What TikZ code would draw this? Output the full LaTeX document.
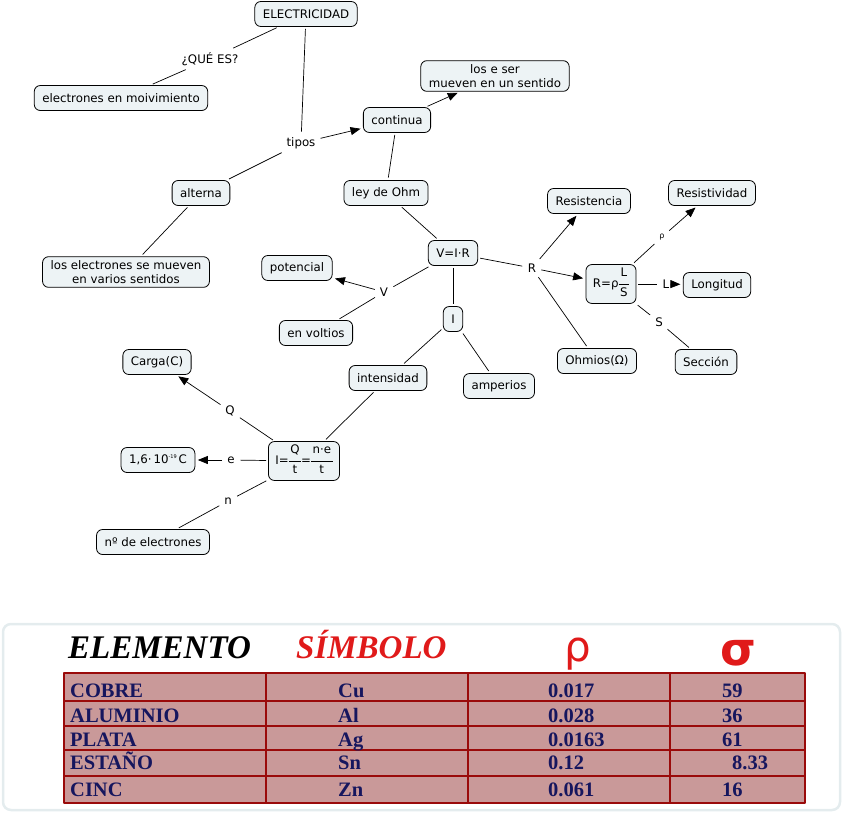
\documentclass[tikz,border=0pt]{standalone}
\usepackage{fontspec}
\setsansfont{DejaVu Sans}
\newfontfamily\tablefont{Liberation Serif}
\newfontfamily\greekfont{DejaVu Sans}
\usepackage{tikz}
\usetikzlibrary{arrows.meta}
\usepackage{xcolor}
\definecolor{conceptfill}{HTML}{EDF3F5}
\definecolor{framegray}{HTML}{E4ECEE}
\definecolor{cellfill}{HTML}{C99999}
\definecolor{cellline}{HTML}{9A0A0A}
\definecolor{cellink}{HTML}{16165E}
\definecolor{headred}{HTML}{E01A1A}
\newcommand{\mapfrac}[2]{\begin{tabular}{@{\hspace{1.5pt}}c@{\hspace{1.5pt}}}#1\\[2.5pt]\hline\rule{0pt}{12.5pt}#2\end{tabular}}

\begin{document}
\begin{tikzpicture}[x=1pt, y=-1pt, line join=round,
    font=\sffamily\fontsize{11.8}{13.5}\selectfont,
    concept/.style={draw, fill=conceptfill, rounded corners=6pt, line width=0.8pt,
      inner xsep=8pt, inner ysep=4pt, minimum height=25pt, align=center},
    linkword/.style={inner sep=3pt},
    link/.style={line width=0.7pt, shorten <=2pt, shorten >=2.5pt},
    linkarrow/.style={line width=0.7pt, shorten <=2pt, shorten >=2.5pt,
      -{Triangle[length=10pt, width=8pt]}},
    header/.style={anchor=base west, inner sep=0pt,
      font=\tablefont\bfseries\itshape\fontsize{33}{35}\selectfont},
    cell/.style={anchor=base west, inner sep=0pt, text=cellink,
      font=\tablefont\bfseries\fontsize{20.5}{22}\selectfont}]

    \useasboundingbox (0,0) rectangle (843,815);

    % ELECTRICIDAD and its two kinds
    \node[concept]  (elec)    at (306,14)  {ELECTRICIDAD};
    \node[linkword] (quees)   at (210,59)  {¿QUÉ ES?};
    \node[concept]  (movim)   at (121,98)  {electrones en moivimiento};
    \node[linkword] (tipos)   at (301,143) {tipos};
    \node[concept]  (cont)    at (397,120) {continua};
    \node[concept]  (sentido) at (495,76)  {los e ser\\ mueven en un sentido};
    \node[concept]  (alt)     at (201,193) {alterna};
    \node[concept]  (varios)  at (126,272) {los electrones se mueven\\en varios sentidos};

    % Ohm's law
    \node[concept]  (ohm)     at (386,193) {ley de Ohm};
    \node[concept]  (vir)     at (453,253) {V=I·R};
    \node[linkword] (vlbl)    at (384,292) {V};
    \node[concept]  (pot)     at (297,268) {potencial};
    \node[concept]  (volt)    at (316,333) {en voltios};
    \node[linkword] (rlbl)    at (532,268) {R};
    \node[concept]  (resis)   at (589,201) {Resistencia};
    \node[concept]  (ohmios)  at (597,361) {Ohmios(Ω)};
    \node[concept, inner xsep=7pt, inner ysep=3pt] (formr) at (611,284) {R=ρ\mapfrac{L}{S}};
    \node[linkword] (rholbl)  at (662,237) {\footnotesize ρ};
    \node[concept]  (resvd)   at (712,193) {Resistividad};
    \node[linkword] (llbl)    at (666,284) {L};
    \node[concept]  (longi)   at (717,285) {Longitud};
    \node[linkword] (slbl)    at (659,322) {S};
    \node[concept]  (secc)    at (706,362) {Sección};

    % Intensity and charge
    \node[concept]  (inode)   at (453,319) {I};
    \node[concept]  (intens)  at (388,378) {intensidad};
    \node[concept]  (amp)     at (499,386) {amperios};
    \node[concept, inner xsep=7pt, inner ysep=3pt] (formi) at (304,461)
      {I=\mapfrac{Q}{t}=\mapfrac{n·e}{t}};
    \node[linkword] (qlbl)    at (230,411) {Q};
    \node[concept]  (carga)   at (157,362) {Carga(C)};
    \node[linkword] (elbl)    at (231,460) {e};
    \node[concept]  (carge)   at (158,460) {1,6·\,10\raisebox{0.8ex}{\tiny -19}\,C};
    \node[linkword] (nlbl)    at (228,501) {n};
    \node[concept]  (nelec)   at (153,542) {nº de electrones};

    % Connectors
    \draw[link] (elec) -- (quees);
    \draw[link] (quees) -- (movim);
    \draw[link] (elec) -- (tipos);
    \draw[linkarrow] (tipos) -- (cont);
    \draw[link] (tipos) -- (alt);
    \draw[linkarrow] (cont) -- (sentido);
    \draw[link] (alt) -- (varios);
    \draw[link] (cont) -- (ohm);
    \draw[link] (ohm) -- (vir);
    \draw[link] (vir) -- (vlbl);
    \draw[linkarrow] (vlbl) -- (pot);
    \draw[link] (vlbl) -- (volt);
    \draw[link] (vir) -- (rlbl);
    \draw[linkarrow] (rlbl) -- (resis);
    \draw[linkarrow] (rlbl) -- (formr);
    \draw[link] (rlbl) -- (ohmios);
    \draw[link] (formr) -- (rholbl);
    \draw[linkarrow] (rholbl) -- (resvd);
    \draw[link] (formr) -- (llbl);
    \draw[linkarrow] (llbl) -- (longi);
    \draw[link] (formr) -- (slbl);
    \draw[link] (slbl) -- (secc);
    \draw[link] (vir) -- (inode);
    \draw[link] (inode) -- (intens);
    \draw[link] (inode) -- (amp);
    \draw[link] (intens) -- (formi);
    \draw[link] (formi) -- (qlbl);
    \draw[linkarrow] (qlbl) -- (carga);
    \draw[link] (formi) -- (elbl);
    \draw[linkarrow] (elbl) -- (carge);
    \draw[link] (formi) -- (nlbl);
    \draw[link] (nlbl) -- (nelec);

    % Table of materials
    \draw[framegray, line width=2.5pt, rounded corners=8pt] (3,624) rectangle (840,810);
    \node[header] (hdelem) at (68,658) {ELEMENTO};
    \node[header, text=headred] (hdsym) at (296,658) {SÍMBOLO};
    \node[anchor=base west, inner sep=0pt, text=headred,
      font=\greekfont\fontsize{42}{42}\selectfont] (hdrho) at (564,661) {ρ};
    \node[anchor=base west, inner sep=0pt, text=headred,
      font=\greekfont\bfseries\fontsize{46}{46}\selectfont] (hdsigma) at (720,665) {σ};

    \fill[cellfill] (64,673) rectangle (805,803);
    \draw[cellline, line width=2pt] (64,673) rectangle (805,803);
    \draw[cellline, line width=2pt] (64,701) -- (805,701) (64,726) -- (805,726)
      (64,750) -- (805,750) (64,776) -- (805,776);
    \draw[cellline, line width=2.5pt] (266,673) -- (266,803) (468,673) -- (468,803)
      (670,673) -- (670,803);

    % Rows
    \node[cell] (cobre) at (70,697) {COBRE};
    \node[cell] (cu)    at (338,697) {Cu};
    \node[cell] (rhocu) at (548,697) {0.017};
    \node[cell] (sgcu)  at (722,697) {59};
    \node[cell] (alum)  at (70,722) {ALUMINIO};
    \node[cell] (al)    at (338,722) {Al};
    \node[cell] (rhoal) at (548,722) {0.028};
    \node[cell] (sgal)  at (722,722) {36};
    \node[cell] (plata) at (70,746) {PLATA};
    \node[cell] (ag)    at (338,746) {Ag};
    \node[cell] (rhoag) at (548,746) {0.0163};
    \node[cell] (sgag)  at (722,746) {61};
    \node[cell] (estano) at (70,769) {ESTAÑO};
    \node[cell] (sn)    at (338,769) {Sn};
    \node[cell] (rhosn) at (548,769) {0.12};
    \node[cell] (sgsn)  at (732,769) {8.33};
    \node[cell] (cinc)  at (70,796) {CINC};
    \node[cell] (zn)    at (338,796) {Zn};
    \node[cell] (rhozn) at (548,796) {0.061};
    \node[cell] (sgzn)  at (722,796) {16};

\end{tikzpicture}
\end{document}
